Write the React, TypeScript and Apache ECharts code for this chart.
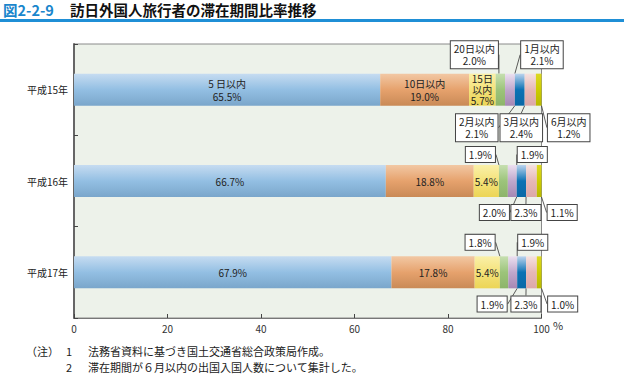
import React, { useEffect, useRef } from 'react';
import * as echarts from 'echarts';

const years = ['平成15年', '平成16年', '平成17年'];
const periods = ['5日以内', '10日以内', '15日以内', '20日以内', '1月以内', '2月以内', '3月以内', '6月以内'];
const periodLabels = ['5 日以内', '10日以内', '15日\n以内', '20日以内', '1月以内', '2月以内', '3月以内', '6月以内'];
const within5d = [65.5, 66.7, 67.9];
const within10d = [19.0, 18.8, 17.8];
const within15d = [5.7, 5.4, 5.4];
const within20d = [2.0, 1.9, 1.8];
const within1m = [2.1, 1.9, 1.9];
const within2m = [2.1, 2.0, 1.9];
const within3m = [2.4, 2.3, 2.3];
const within6m = [1.2, 1.1, 1.0];
const seriesValues = [within5d, within10d, within15d, within20d, within1m, within2m, within3m, within6m];
const xTickStep = 20;

const FONT = '"Noto Sans CJK JP", "Noto Sans", sans-serif';

const grad = (stops: string[]) =>
  new echarts.graphic.LinearGradient(0, 0, 0, 1, stops.map((c, i) => ({ offset: i / (stops.length - 1), color: c })));

const colors = [
  ['#c6dcf1', '#93bfe3', '#7aa6cb'],
  ['#f2c8a4', '#e6a26d', '#c98a56'],
  ['#faf0a8', '#f4e27a', '#ecd556'],
  ['#c6dfb0', '#9cc47a', '#8db46a'],
  ['#ece0f0', '#c0a8cc', '#a688b4'],
  ['#bcd4ee', '#0b72b4', '#0a68a6'],
  ['#f6e2e0', '#e6b8b6', '#dca8a8'],
  ['#dcd820', '#cccc00', '#b8b800'],
];

// callout offsets (px) from the segment's centre: [dx, dy from top (neg) / bottom (pos)]
const calloutOffsets: Record<number, number[][]> = {
  3: [[-26, -19], [-23, -10.5], [-24, -14]],
  4: [[32, -19], [20, -10.5], [20, -14]],
  5: [[-43, 22], [-27, 15.5], [-29.5, 15.7]],
  6: [[-9, 22], [-5.5, 15.5], [-5.5, 15.7]],
  7: [[30, 22], [23, 15.5], [23.5, 15.7]],
};

export default function App() {
  const ref = useRef<HTMLDivElement>(null);
  useEffect(() => {
    const chart = echarts.init(ref.current!, undefined, { renderer: 'svg' });
    const series: any[] = seriesValues.map((vals, si) => {
      const small = si >= 3;
      const base: any = {
        name: periods[si],
        type: 'bar',
        stack: 'total',
        barWidth: 32,
        data: vals,
        itemStyle: { color: grad(colors[si]) },
        label: {
          show: true,
          position: 'inside',
          fontFamily: FONT,
          fontSize: 10,
          color: '#222',
          lineHeight: si === 2 ? 11 : 13,
          formatter: (p: any) =>
            (p.dataIndex === 0 ? periodLabels[si] + '\n' : '') + Number(p.value).toFixed(1) + '%',
        },
      };
      if (small) {
        base.label = {
          ...base.label,
          backgroundColor: '#fff',
          borderColor: '#444',
          borderWidth: 1,
          padding: [2, 3, 1, 3],
          lineHeight: 12,
          align: 'center',
        };
        base.labelLine = { show: true, lineStyle: { color: '#333', width: 0.8 } };
        base.labelLayout = (p: any) => {
          const off = calloutOffsets[si][p.dataIndex];
          const r = p.rect;
          const cx = r.x + r.width / 2 + off[0];
          const cy = off[1] < 0 ? r.y + off[1] : r.y + r.height + off[1];
          return { x: cx, y: cy, align: 'center', verticalAlign: 'middle' };
        };
      }
      return base;
    });

    chart.setOption({
      animation: false,
      textStyle: { fontFamily: FONT },
      grid: {
        left: 74,
        right: 82.5,
        top: 44,
        bottom: 59,
        show: true,
        backgroundColor: '#edf2ea',
        borderColor: '#8a8a8a',
        borderWidth: 1,
      },
      xAxis: {
        type: 'value',
        min: 0,
        max: 100,
        interval: xTickStep,
        splitLine: { show: false },
        axisLine: { show: true, lineStyle: { color: '#777', width: 1 } },
        axisTick: { show: true, inside: true, length: 4, lineStyle: { color: '#444' } },
        axisLabel: { fontSize: 10, color: '#333', margin: 5, fontFamily: FONT },
      },
      yAxis: {
        type: 'category',
        data: years,
        inverse: true,
        axisLine: { show: true, lineStyle: { color: '#666', width: 2 } },
        axisTick: { show: true, inside: true, length: 4, lineStyle: { color: '#444' } },
        axisLabel: { fontSize: 10, color: '#222', margin: 6, fontFamily: FONT },
      },
      series,
      graphic: [
        { type: 'rect', left: 0, top: 19, shape: { width: 624, height: 3 }, style: { fill: '#1f8fd6' } },
        { type: 'text', left: 3, top: 2, style: { text: '図2-2-9', fill: '#1a86cc', font: `bold 14.5px ${FONT}` } },
        { type: 'text', left: 70, top: 2, style: { text: '訪日外国人旅行者の滞在期間比率推移', fill: '#111', font: `bold 14.5px ${FONT}` } },
        { type: 'text', left: 553, top: 319, style: { text: '%', fill: '#333', font: `11px ${FONT}` } },
        { type: 'text', left: 26, top: 345, style: { text: '（注）', fill: '#222', font: `11px ${FONT}` } },
        { type: 'text', left: 66, top: 345, style: { text: '1', fill: '#222', font: `11px ${FONT}` } },
        { type: 'text', left: 88, top: 345, style: { text: '法務省資料に基づき国土交通省総合政策局作成。', fill: '#222', font: `11px ${FONT}` } },
        { type: 'text', left: 66, top: 361, style: { text: '2', fill: '#222', font: `11px ${FONT}` } },
        { type: 'text', left: 88, top: 361, style: { text: '滞在期間が６月以内の出国入国人数について集計した。', fill: '#222', font: `11px ${FONT}` } },
      ],
    });
    return () => chart.dispose();
  }, []);
  return <div ref={ref} style={{ position: 'fixed', left: 0, top: 0, width: 624, height: 377, background: '#fff' }} />;
}
